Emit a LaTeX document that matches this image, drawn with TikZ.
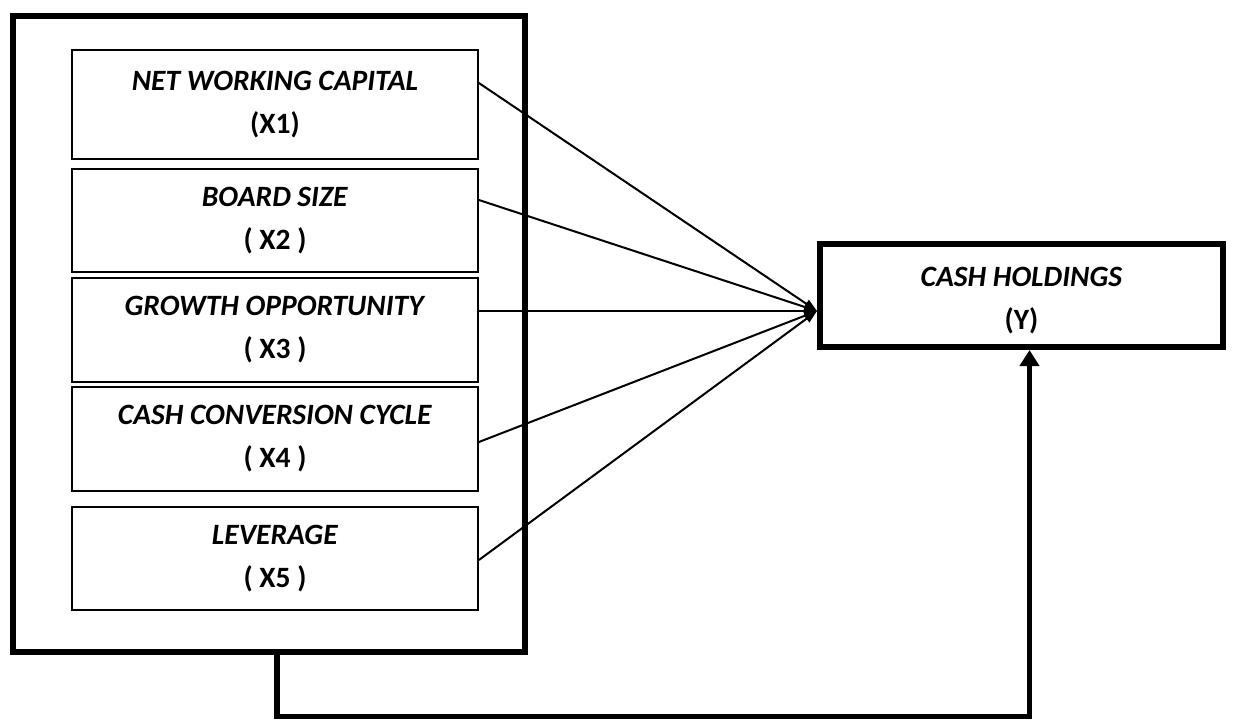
\documentclass[tikz,border=0pt]{standalone}
\usepackage{fontspec}
\setmainfont{Carlito}
\usetikzlibrary{arrows.meta,calc}
\begin{document}
\begin{tikzpicture}[x=1pt,y=-1pt,
  varbox/.style={draw=black,line width=1.8pt,rectangle,minimum width=406pt,inner sep=0pt,align=center,
    font=\fontsize{29.5}{43}\selectfont},
  bigbox/.style={draw=black,line width=6.5pt,rectangle,inner sep=0pt},
  ybox/.style={draw=black,line width=6pt,rectangle,minimum width=403pt,minimum height=103pt,inner sep=0pt,align=center,
    font=\fontsize{29.5}{43}\selectfont},
  arr/.style={line width=2pt,-{Triangle[length=13pt,width=9pt]}},
  conn/.style={line width=5.5pt,-{Triangle[length=16pt,width=19pt]}}
]
\useasboundingbox (0,0) rectangle (1233,720);
\node[bigbox,minimum width=512pt,minimum height=636pt] (outer) at (269,334) {};
\node[varbox,minimum height=109pt] (b1) at (275,104.5) {\textbf{\textit{NET WORKING CAPITAL}}\\\textbf{(X1)}};
\node[varbox,minimum height=103pt] (b2) at (275,220.5) {\textbf{\textit{BOARD SIZE}}\\\textbf{( X2 )}};
\node[varbox,minimum height=104pt] (b3) at (275,330) {\textbf{\textit{GROWTH OPPORTUNITY}}\\\textbf{( X3 )}};
\node[varbox,minimum height=104pt] (b4) at (275,439) {\textbf{\textit{CASH CONVERSION CYCLE}}\\\textbf{( X4 )}};
\node[varbox,minimum height=103pt] (b5) at (275,558.5) {\textbf{\textit{LEVERAGE}}\\\textbf{( X5 )}};
\node[ybox] (Y) at (1021.5,295.5) {\rule{0pt}{29pt}\textbf{\textit{CASH HOLDINGS}}\\\textbf{(Y)}};
\coordinate (tip) at ([yshift=-15.5pt]Y.west);
\draw[arr] ([yshift=21.5pt]b1.east) -- (tip);
\draw[arr] ([yshift=20.5pt]b2.east) -- (tip);
\draw[arr] ([yshift=19pt]b3.east) -- (tip);
\draw[arr] ([yshift=-3pt]b4.east) -- (tip);
\draw[arr] ([yshift=-1.5pt]b5.east) -- (tip);
\coordinate (bend) at (277,716.5);
\draw[conn] (outer.south -| bend) -- (bend) -| ([xshift=8pt]Y.south);
\end{tikzpicture}
\end{document}
